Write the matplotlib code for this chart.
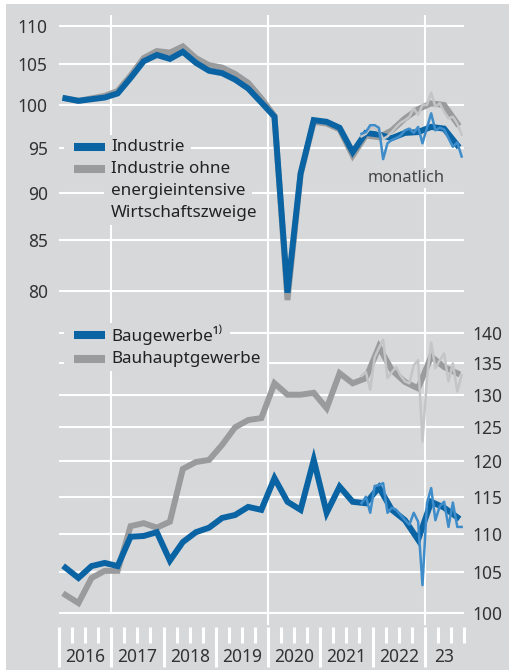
import numpy as np
import pandas as pd
import matplotlib
matplotlib.use("Agg")
import matplotlib.pyplot as plt
from matplotlib.patches import Rectangle
from matplotlib.ticker import NullLocator
import matplotlib.transforms as mtransforms

plt.rcParams["font.family"] = ["Noto Sans", "DejaVu Sans"]

# Quartalswerte 2016Q1 .. 2023Q3, 2015 = 100 (log. Maßstab)
quarters = pd.period_range("2016Q1", "2023Q3", freq="Q")
months = pd.period_range("2021-10", "2023-09", freq="M")

industrie_q = [100.8, 100.5, 100.7, 100.9, 101.4, 103.3, 105.4, 106.2,
               105.7, 106.6, 105.2, 104.2, 103.9, 103.1, 102.0, 100.3,
               98.6, 79.8, 92.1, 98.2, 98.0, 97.3, 94.5, 96.7,
               96.5, 96.1, 96.7, 96.8, 97.4, 97.2, 95.3]
ind_ohne_q = [100.8, 100.5, 100.8, 101.1, 101.7, 103.6, 105.8, 106.7,
              106.5, 107.3, 105.8, 104.9, 104.6, 103.8, 102.7, 100.8,
              98.7, 79.1, 92.0, 98.0, 97.8, 97.1, 94.1, 96.4,
              96.2, 97.0, 98.4, 99.5, 100.2, 100.0, 97.8]
bau_q = [105.6, 104.3, 105.8, 106.2, 105.8, 109.6, 109.7, 110.2,
         106.5, 108.9, 110.2, 110.8, 112.1, 112.5, 113.6, 113.2,
         117.6, 114.3, 113.2, 120.2, 112.8, 116.4, 114.3, 114.1,
         116.3, 113.2, 111.8, 109.2, 114.3, 113.5, 112.2]
bauhaupt_q = [102.2, 101.2, 104.3, 105.2, 105.2, 111.0, 111.4, 110.8,
              111.6, 118.9, 119.9, 120.2, 122.4, 125.0, 126.1, 126.4,
              131.8, 130.0, 130.0, 130.3, 127.9, 133.4, 131.8, 132.6,
              137.7, 133.9, 132.0, 131.0, 136.1, 134.4, 133.4]

# Monatswerte 2021-10 .. 2023-09
industrie_m = [96.6, 96.8, 97.6, 97.6, 97.3, 93.7, 95.5, 95.9, 96.1, 96.4, 97.0, 97.2,
               96.7, 97.4, 95.5, 97.3, 99.0, 97.0, 97.3, 97.1, 96.1, 95.1, 95.6, 94.0]
ind_ohne_m = [96.3, 96.6, 97.3, 97.2, 96.9, 96.0, 96.3, 96.8, 97.4, 97.9, 98.2, 98.6,
              99.6, 98.8, 100.0, 100.0, 101.5, 99.8, 100.2, 99.2, 98.4, 98.6, 97.8, 96.5]
bau_m = [114.1, 115.0, 112.8, 116.5, 116.6, 116.9, 112.8, 113.5, 113.2, 112.5, 111.8, 111.2,
         112.8, 111.6, 103.4, 114.1, 116.2, 111.8, 113.7, 114.3, 110.9, 114.2, 110.9, 110.9]
bauhaupt_m = [133.0, 133.6, 130.8, 136.0, 137.5, 138.9, 132.6, 133.6, 134.4, 133.0, 132.1, 131.8,
              134.7, 135.5, 122.9, 132.6, 138.4, 134.2, 135.5, 136.6, 132.1, 135.0, 130.5, 133.1]

left_ticks = [80, 85, 90, 95, 100, 105, 110]
right_ticks = [100, 105, 110, 115, 120, 125, 130, 135, 140]
year_labels = ["2016", "2017", "2018", "2019", "2020", "2021", "2022", "23"]

BG = "#d7d8da"
BLUE = "#0a64a4"
LBLUE = "#3e8dca"
GREY = "#9a9b9d"
LGREY = "#c4c5c7"
TXT = "#333333"

W, H = 510, 670


def fx(px):
    return px / W


def fy(py):
    return 1 - py / H


def to_year(periods):
    start = np.array([p.start_time.year + (p.start_time.dayofyear - 1) / 365.25 for p in periods])
    half = np.array([(p.end_time - p.start_time).days / 365.25 / 2 for p in periods])
    return start + half


tq = to_year(quarters)
tm = to_year(months)

fig = plt.figure(figsize=(W / 100, H / 100), dpi=100, facecolor="white")
fig.patches.append(Rectangle((fx(6), 0), 1 - fx(6), fy(4), transform=fig.transFigure,
                             facecolor=BG, edgecolor="none", zorder=-10))

ax_top, ax_bot = 15, 625
ax = fig.add_axes([fx(59), fy(ax_bot), fx(464) - fx(59), fy(ax_top) - fy(ax_bot)])
ax.set_facecolor("none")
ax.set_yscale("log")
ax.set_xlim(2016.0, 2023.75)
ax.set_ylim(100 * np.exp((105 - ax_bot) / 832), 100 * np.exp((105 - ax_top) / 832))

ax2 = ax.twinx()
ax2.set_yscale("log")
ax2.set_ylim(100 * np.exp((613 - ax_bot) / 832), 100 * np.exp((613 - ax_top) / 832))

for a in (ax, ax2):
    for s in a.spines.values():
        s.set_visible(False)
    a.yaxis.set_minor_locator(NullLocator())
    a.tick_params(axis="both", length=0, labelsize=12.5, labelcolor=TXT)
ax.set_xticks([])

ax.set_yticks(left_ticks)
ax.set_yticklabels([str(v) for v in left_ticks])
ax.tick_params(axis="y", pad=8)
ax2.set_yticks(right_ticks)
ax2.set_yticklabels([str(v) for v in right_ticks])
ax2.tick_params(axis="y", pad=6)

# Gitter
for v in left_ticks:
    ax.axhline(v, color="white", lw=1.5, zorder=1)
for v in right_ticks:
    ax2.axhline(v, color="white", lw=1.5, zorder=1)
for yr in (2017, 2020, 2023):
    bottom = 613 if yr == 2017 else ax_bot
    ax.axvline(yr, ymin=(ax_bot - bottom) / (ax_bot - ax_top), color="white", lw=1.5, zorder=1)

# Reihen
ax.plot(tq, ind_ohne_q, color=GREY, lw=4.3, solid_joinstyle="miter", zorder=3)
ax.plot(tq, industrie_q, color=BLUE, lw=4.3, solid_joinstyle="miter", zorder=4)
ax.plot(tm, ind_ohne_m, color=LGREY, lw=1.8, zorder=5)
ax.plot(tm, industrie_m, color=LBLUE, lw=1.8, zorder=6)

ax2.plot(tq, bauhaupt_q, color=GREY, lw=4.3, solid_joinstyle="miter", zorder=3)
ax2.plot(tq, bau_q, color=BLUE, lw=4.3, solid_joinstyle="miter", zorder=4)
ax2.plot(tm, bauhaupt_m, color=LGREY, lw=1.8, zorder=5)
ax2.plot(tm, bau_m, color=LBLUE, lw=1.8, zorder=6)

# Legenden: Text mit Hintergrundfläche je Zeile, die das Gitter unterbricht
legend_rows = [(147, "Industrie", BLUE), (169, "Industrie ohne", GREY),
               (191, "energieintensive", None), (213, "Wirtschaftszweige", None),
               (335, "Baugewerbe\u00b9\u207e", BLUE), (359, "Bauhauptgewerbe", GREY)]
texts = []
for y, s, c in legend_rows:
    t = fig.text(fx(111), fy(y), s, fontsize=12.3, color="#222222", ha="left",
                 va="center", zorder=8)
    texts.append(t)
    if c is not None:
        fig.add_artist(plt.Line2D([fx(74), fx(105)], [fy(y), fy(y)], color=c, lw=5.8,
                                  solid_capstyle="butt", transform=fig.transFigure, zorder=7))

fig.canvas.draw()
renderer = fig.canvas.get_renderer()
for (y, s, c), t in zip(legend_rows, texts):
    bb = t.get_window_extent(renderer)
    x0 = 64 if c is not None else 104
    x1 = bb.x1 + 7
    fig.patches.append(Rectangle((fx(x0), fy(y + 12)), x1 / W - fx(x0), 24 / H,
                                 transform=fig.transFigure, facecolor=BG,
                                 edgecolor="none", zorder=2))

fig.text(fx(406), fy(178), "monatlich", fontsize=11.8, color="#444444", ha="center", va="center",
         zorder=8, bbox=dict(boxstyle="square,pad=0.1", facecolor=BG, edgecolor="none"))

# x-Achse: Quartalsstriche und Jahre
trans = mtransforms.blended_transform_factory(ax.transData, fig.transFigure)
for q in np.arange(2016.0, 2023.76, 0.25):
    tall = abs(q - round(q)) < 1e-6
    ax.plot([q, q], [fy(627), fy(667 if tall else 643)], color="white", lw=2.2,
            transform=trans, clip_on=False, solid_capstyle="butt")
for i, lab in enumerate(year_labels):
    xc = 2016 + i + 0.5 if lab != "23" else 2023.375
    ax.text(xc, fy(657), lab, transform=trans, ha="center", va="center",
            fontsize=12.5, color=TXT)

fig.savefig("out.png", dpi=100, facecolor="white")
